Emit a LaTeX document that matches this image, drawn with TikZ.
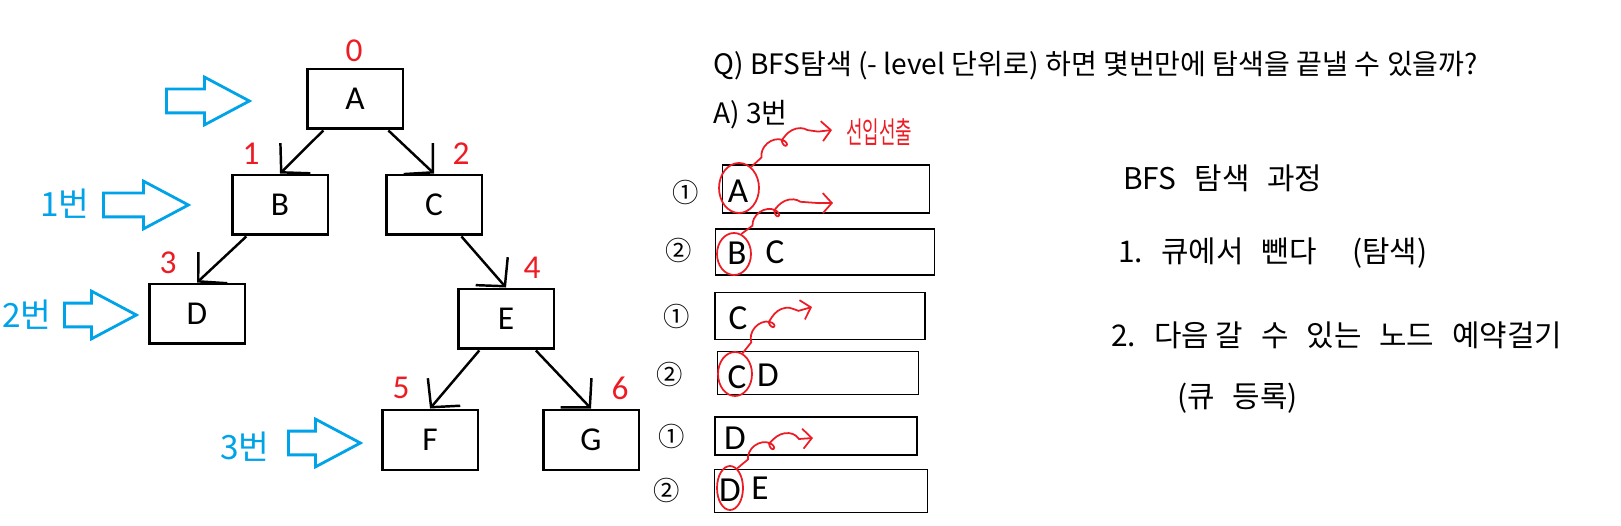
\documentclass[tikz,border=0pt]{standalone}
\usepackage{fontspec}
\usepackage{graphicx}
\setmainfont{Carlito}
\newfontfamily\kr{Noto Sans CJK KR}
\usetikzlibrary{arrows.meta,shapes.arrows,shapes.geometric,decorations.pathmorphing}
\definecolor{mark}{HTML}{ED1C24}
\definecolor{lvl}{HTML}{00A2E8}
\newcommand\gap{\hspace{0.6em}}
\tikzstyle{every edge} = [draw,line width=1.4pt,-{Straight Barb[length=4mm,width=8.5mm]}]
\tikzstyle{vertex} = [draw,line width=1.7pt,minimum width=1.92cm,minimum height=1.2cm,inner sep=0pt,font=\fontsize{19}{19}\selectfont]
\tikzstyle{order} = [text=mark,inner sep=0pt,font=\fontsize{19}{19}\selectfont]
\tikzstyle{level} = [single arrow,draw=lvl,line width=1.6pt,inner xsep=0pt,inner ysep=0.21cm,minimum height=#1,single arrow head extend=0.24cm,single arrow tip angle=56,anchor=tail]
\tikzstyle{levelno} = [text=lvl,inner sep=0pt,font=\kr\fontsize{19}{19}\selectfont]
\tikzstyle{note} = [anchor=west,inner sep=0pt,font=\kr\fontsize{16}{18}\selectfont]
\tikzstyle{slot} = [draw,line width=1pt,inner sep=0pt]
\tikzstyle{phase} = [inner sep=0pt,font=\kr\fontsize{15}{15}\selectfont]
\tikzstyle{entry} = [inner sep=0pt,font=\fontsize{20}{20}\selectfont]
\tikzstyle{pick} = [ellipse,draw=mark,line width=1pt,inner sep=0pt]
\tikzstyle{hop} = [draw=mark,line width=1pt,decorate,decoration={coil,amplitude=4pt,segment length=15pt,aspect=1,pre length=8pt,post length=8pt},-{Straight Barb[length=1.8mm,width=4mm]}]
\tikzstyle{hand} = [anchor=west,inner sep=0pt,font=\kr\fontsize{17}{20}\selectfont]

\begin{document}
\begin{tikzpicture}[x=0.02cm,y=-0.02cm]

\useasboundingbox (0,0) rectangle (1621,526);

\node[vertex] (A) at (355,99) {A};
\node[vertex] (B) at (280,205) {B};
\node[vertex] (C) at (434,205) {C};
\node[vertex] (D) at (197,314) {D};
\node[vertex] (E) at (506,319) {E};
\node[vertex] (F) at (430,440) {F};
\node[vertex] (G) at (591,440) {G};

\node[order] (o0) at (354,51) {0};
\node[order] (o1) at (251,154) {1};
\node[order] (o2) at (461,154) {2};
\node[order] (o3) at (168,263) {3};
\node[order] (o4) at (532,268) {4};
\node[order] (o5) at (401,388) {5};
\node[order] (o6) at (620,388) {6};

\draw (A) edge (B.north);
\draw (A) edge (C.north);
\draw (B) edge (D.north);
\draw (C) edge (E.north);
\draw (E) edge (F.north);
\draw (E) edge (G.north);

\node[level=1.66cm] (l0) at (165,101) {};
\node[level=1.7cm] (l1) at (102,205) {};
\node[level=1.44cm] (l2) at (63,315) {};
\node[level=1.44cm] (l3) at (287,443) {};
\node[levelno] (n1) at (65,204) {1번};
\node[levelno] (n2) at (27,315) {2번};
\node[levelno] (n3) at (245,447) {3번};

\node[note] (ask) at (713,66) {Q) BFS탐색 (- level 단위로) 하면 몇번만에 탐색을 끝낼 수 있을까?};
\node[note] (ans) at (713,115) {A) 3번};

\node[slot,minimum width=4.14cm,minimum height=0.96cm] (q1) at (826,189) {};
\node[slot,minimum width=4.38cm,minimum height=0.92cm] (q2) at (825,252) {};
\node[slot,minimum width=4.2cm,minimum height=0.94cm] (q3) at (820,316) {};
\node[slot,minimum width=4.02cm,minimum height=0.86cm] (q4) at (818,373) {};
\node[slot,minimum width=4.04cm,minimum height=0.76cm] (q5) at (816,436) {};
\node[slot,minimum width=4.26cm,minimum height=0.86cm] (q6) at (821,491) {};

\node[phase] (p1) at (686,192) {①};
\node[phase] (p2) at (679,250) {②};
\node[phase] (p3) at (677,316) {①};
\node[phase] (p4) at (670,374) {②};
\node[phase] (p5) at (672,436) {①};
\node[phase] (p6) at (667,490) {②};

\node[entry] (a1) at (738,191) {A};
\node[entry] (b2) at (737,253) {B};
\node[entry] (c2) at (775,252) {C};
\node[entry] (c3) at (738,318) {C};
\node[entry] (c4) at (737,377) {C};
\node[entry] (d4) at (768,375) {D};
\node[entry] (d5) at (735,438) {D};
\node[entry] (d6) at (730,490) {D};
\node[entry] (e6) at (760,488) {E};

\node[pick,minimum width=0.8cm,minimum height=1cm] (outA) at (739,188) {};
\node[pick,minimum width=0.68cm,minimum height=0.84cm] (outB) at (734,254) {};
\node[pick,minimum width=0.68cm,minimum height=0.88cm] (outC) at (735,374) {};
\node[pick,minimum width=0.52cm,minimum height=0.88cm] (outD) at (730,488) {};

\coordinate (tipA) at (832,130);
\coordinate (tipB) at (833,203);
\coordinate (tipC) at (812,307);
\coordinate (tipD) at (813,438);
\draw[hop] (outA.60) to[bend left=20] (tipA);
\draw[hop] (outB.70) to[bend left=20] (tipB);
\draw[hop] (outC.70) to[bend left=20] (tipC);
\draw[hop] (outD.70) to[bend left=20] (tipD);
\node[text=mark,inner sep=0pt,font=\kr\fontsize{17}{17}\selectfont] (fifo) at (879,132) {\scalebox{0.6}[1]{선입선출}};

\node[hand] (h0) at (1123,178) {BFS\gap 탐색\gap 과정};
\node[hand] (h1) at (1118,253) {1.\gap 큐에서\gap 뺀다\gap\gap (탐색)};
\node[hand] (h2) at (1111,335) {2.\gap 다음 갈\gap 수\gap 있는\gap 노드\gap 예약걸기};
\node[hand] (h3) at (1177,398) {(큐\gap 등록)};

\end{tikzpicture}
\end{document}
